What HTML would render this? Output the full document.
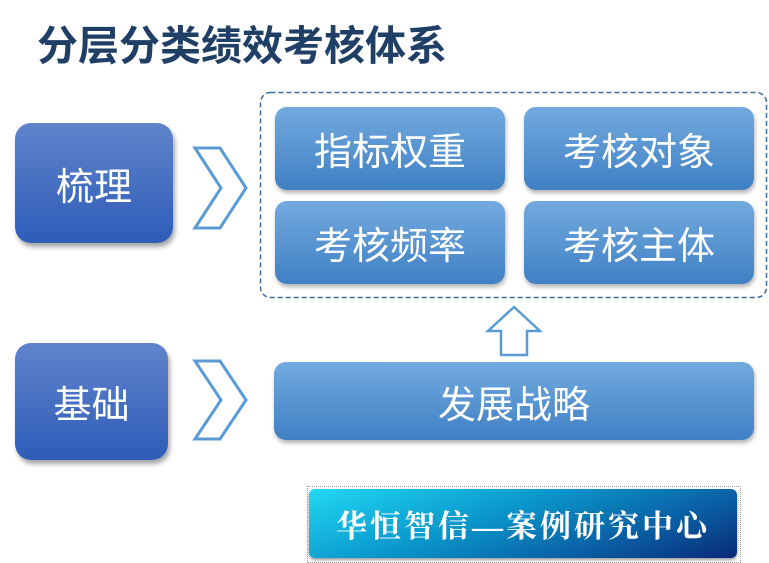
<!DOCTYPE html>
<html><head><meta charset="utf-8"><style>
body{margin:0;width:769px;height:563px;background:#fff;position:relative;overflow:hidden;font-family:"Liberation Sans","Noto Sans CJK SC",sans-serif}
.a{position:absolute}
.lb{background:linear-gradient(#5f84cb,#2e5cb8);border-radius:16px;color:#fff;font-size:38px;display:flex;align-items:center;justify-content:center;box-shadow:2px 4px 5px rgba(0,0,0,.35)}
.ib{background:linear-gradient(#72aade,#3f80c4);border-radius:12px;color:#fff;font-size:38px;display:flex;align-items:center;justify-content:center;box-shadow:1px 3px 4px rgba(0,0,0,.3)}
</style></head><body>
<div class="a" style="left:37px;top:12px;font-size:41px;font-weight:bold;color:#1f3f66;white-space:nowrap">分层分类绩效考核体系</div>
<div class="a lb" style="left:15px;top:123px;width:158px;height:120px">梳理</div>
<div class="a lb" style="left:15px;top:343px;width:153px;height:117px">基础</div>
<svg class="a" style="left:0;top:0" width="769" height="563">
<polygon points="195,148 220,148 246,188 220,228 195,228 221,188" fill="none" stroke="#5b9bd5" stroke-width="3"/>
<polygon points="195,361 220,361 246,400 220,439 195,439 221,400" fill="none" stroke="#5b9bd5" stroke-width="3"/>
<rect x="260.5" y="92.5" width="506" height="205" rx="10" fill="none" stroke="#3a6a9a" stroke-width="1.5" stroke-dasharray="5,3"/>
<polygon points="514,307 540,331 527,331 527,355 501,355 501,331 488,331" fill="#fff" stroke="#5b9bd5" stroke-width="2.5"/>
</svg>
<div class="a ib" style="left:275px;top:107px;width:230px;height:83px">指标权重</div>
<div class="a ib" style="left:524px;top:107px;width:230px;height:83px">考核对象</div>
<div class="a ib" style="left:275px;top:201px;width:230px;height:83px">考核频率</div>
<div class="a ib" style="left:524px;top:201px;width:230px;height:83px">考核主体</div>
<div class="a ib" style="left:274px;top:362px;width:480px;height:78px">发展战略</div>
<div class="a" style="left:307px;top:486px;width:432px;height:75px;border:1px dotted #999"></div>
<div class="a" style="left:309px;top:489px;width:428px;height:69px;border-radius:6px;background:linear-gradient(160deg,#22d8f4 0%,#0a98cc 40%,#0a5aa0 75%,#082a78 100%);color:#fff;font-family:'Liberation Serif','Noto Serif CJK SC',serif;font-size:31px;font-weight:bold;letter-spacing:3px;display:flex;align-items:center;justify-content:center;box-shadow:0 2px 3px rgba(0,0,0,.4)">华恒智信—案例研究中心</div>
</body></html>
